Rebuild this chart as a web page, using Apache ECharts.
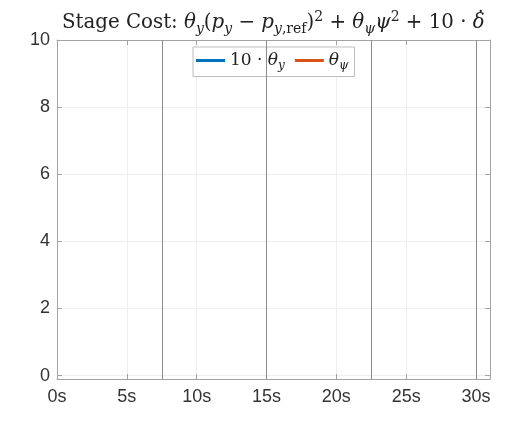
<!DOCTYPE html>
<html>
<head>
<meta charset="utf-8">
<script src="https://cdn.jsdelivr.net/npm/echarts@6/dist/echarts.min.js"></script>
<style>
  html, body { margin: 0; padding: 0; background: #fff; }
  #main { width: 525px; height: 423px; }
</style>
</head>
<body>
<div id="main"></div>
<script>
// series data (nothing is plotted yet in the reference frame)
var thetaY10 = [];
var thetaPsi = [];
// phase boundaries, seconds
var phaseBounds = [7.5, 15, 22.5, 30];
// axis ranges
var xRange = [0, 31];
var yRange = [-0.1, 10];

var chart = echarts.init(document.getElementById('main'));

var serif = 'DejaVu Serif';
var sans = 'Liberation Sans';
var axisGray = '#a3a3a3';

// rich text pieces for the math in the title
var rich = {
    r: { fontFamily: serif, fontSize: 19.8, fontWeight: 'normal', color: '#222', lineHeight: 26 },
    i: { fontFamily: serif, fontSize: 19.8, fontWeight: 'normal', fontStyle: 'italic', color: '#222', lineHeight: 26 },
    d: { fontFamily: serif, fontSize: 19.8, fontWeight: 'normal', fontStyle: 'italic', color: '#222', lineHeight: 26, width: 3 },
    dot: { fontFamily: serif, fontSize: 19.8, fontWeight: 'normal', color: '#222', lineHeight: 22, verticalAlign: 'top' },
    s: { fontFamily: serif, fontSize: 14, fontWeight: 'normal', fontStyle: 'italic', color: '#222', lineHeight: 16, verticalAlign: 'bottom' },
    sr: { fontFamily: serif, fontSize: 14, fontWeight: 'normal', color: '#222', lineHeight: 16, verticalAlign: 'bottom' },
    p: { fontFamily: serif, fontSize: 14, fontWeight: 'normal', color: '#222', lineHeight: 16, verticalAlign: 'top' }
};
var legRich = {
    r: { fontFamily: serif, fontSize: 17, color: '#222', lineHeight: 22 },
    i: { fontFamily: serif, fontSize: 17, fontStyle: 'italic', color: '#222', lineHeight: 22 },
    s: { fontFamily: serif, fontSize: 12, fontStyle: 'italic', color: '#222', lineHeight: 13, verticalAlign: 'bottom' }
};
var legendText = {
    'theta_y': '{r|10 · }{i|θ}{s|y}',
    'theta_psi': '{i|θ}{s|ψ}'
};

var titleText = '{r|Stage Cost: }{i|θ}{s|y}{r|(}{i|p}{s|y}{r| − }{i|p}{s|y}{sr|,ref}{r|)}{p|2}' +
    '{r| + }{i|θ}{s|ψ}{i|ψ}{p|2}{r| + 10 · }{d|δ}{dot|˙}';

function boxAxis(extra) {
    var base = {
        type: 'value',
        axisLine: { show: true, onZero: false, lineStyle: { color: axisGray } },
        axisTick: { show: true, inside: true, length: 5, lineStyle: { color: axisGray } },
        splitLine: { show: false },
        axisLabel: { show: false }
    };
    return Object.assign(base, extra);
}

var option = {
    animation: false,
    title: {
        text: titleText,
        left: 57,
        top: 5,
        textStyle: { rich: rich }
    },
    legend: {
        data: ['theta_y', 'theta_psi'],
        left: 193,
        top: 47,
        padding: [5, 6, 5, 3],
        itemGap: 10,
        itemWidth: 29,
        itemHeight: 3,
        icon: 'rect',
        backgroundColor: '#fff',
        borderColor: '#bdbdbd',
        borderWidth: 1,
        borderRadius: 0,
        formatter: function (name) {
            return legendText[name];
        },
        textStyle: { rich: legRich }
    },
    grid: { left: 57, right: 35, top: 40, bottom: 44 },
    xAxis: [
        boxAxis({
            min: xRange[0],
            max: xRange[1],
            interval: 5,
            splitLine: { show: true, lineStyle: { color: '#eeeeee' } },
            axisLabel: {
                showMaxLabel: false,
                margin: 9,
                fontFamily: sans,
                fontSize: 18,
                color: '#333',
                formatter: function (v) { return v + 's'; }
            }
        }),
        boxAxis({
            position: 'top',
            min: xRange[0],
            max: xRange[1],
            interval: 5
        })
    ],
    yAxis: [
        boxAxis({
            min: yRange[0],
            max: yRange[1],
            splitNumber: 5,
            splitLine: { show: true, lineStyle: { color: '#eeeeee' } },
            axisLabel: {
                showMinLabel: false,
                margin: 7,
                fontFamily: sans,
                fontSize: 18,
                color: '#333'
            }
        }),
        boxAxis({
            position: 'right',
            min: yRange[0],
            max: yRange[1],
            splitNumber: 5
        })
    ],
    series: [
        {
            name: 'theta_y',
            type: 'line',
            data: thetaY10,
            showSymbol: false,
            lineStyle: { color: '#0072BD', width: 2 },
            itemStyle: { color: '#0072BD' }
        },
        {
            name: 'theta_psi',
            type: 'line',
            data: thetaPsi,
            showSymbol: false,
            lineStyle: { color: '#D95319', width: 2 },
            itemStyle: { color: '#D95319' }
        },
        {
            name: 'bounds',
            type: 'line',
            data: [],
            silent: true,
            markLine: {
                silent: true,
                symbol: 'none',
                label: { show: false },
                lineStyle: { color: '#8c8c8c', type: 'solid', width: 1 },
                data: phaseBounds.map(function (v) { return { xAxis: v }; })
            }
        }
    ]
};

chart.setOption(option);
</script>
</body>
</html>
